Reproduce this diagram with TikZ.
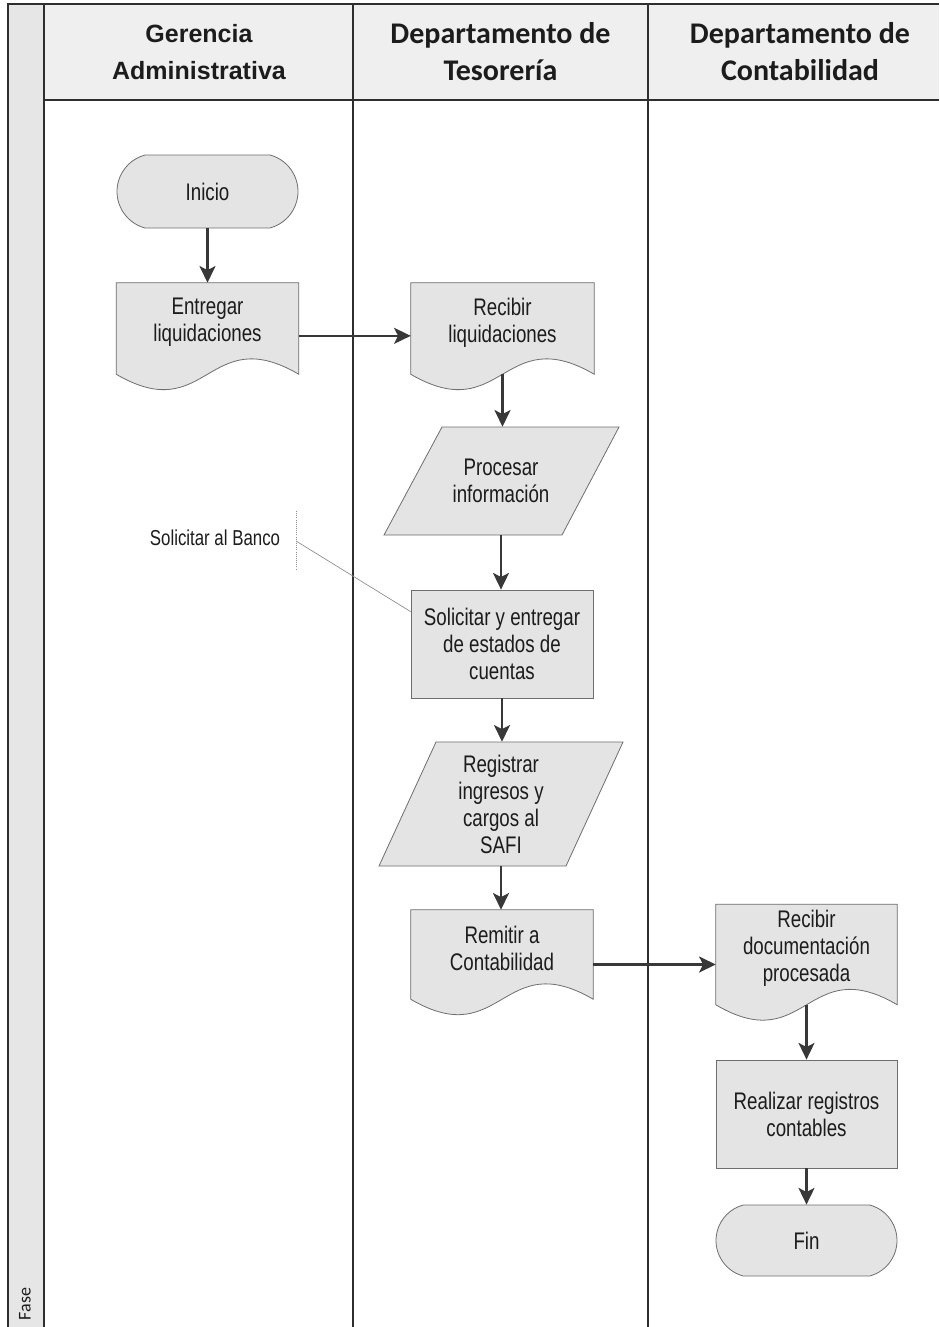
\documentclass[tikz,border=0pt]{standalone}
\usepackage{fontspec}
\setmainfont{Liberation Sans}
\newfontfamily\narrowsans[FakeStretch=0.78]{Liberation Sans}
\newfontfamily\headsans{Carlito}
\usetikzlibrary{arrows.meta,shapes.misc}
\pgfdeclarelayer{back}
\pgfsetlayers{back,main}

\definecolor{lanegray}{HTML}{2E2E2E}
\definecolor{headfill}{HTML}{EFEFEF}
\definecolor{phasefill}{HTML}{E6E6E6}
\definecolor{boxfill}{HTML}{E4E4E4}
\definecolor{edgegray}{HTML}{6E6E6E}
\definecolor{arrowgray}{HTML}{383838}
\definecolor{inkcolor}{HTML}{1C1C1C}
\definecolor{notegray}{HTML}{8C8C8C}

\newcommand\flowfont{\narrowsans\fontsize{18}{20.25}\selectfont}
\newcommand\notefont{\narrowsans\fontsize{16.2}{19}\selectfont}
\newcommand\laneheadA{\bfseries\fontsize{18.75}{27.75}\selectfont}
\newcommand\laneheadB{\headsans\bfseries\fontsize{22.5}{27.75}\selectfont}
\newcommand\phasefont{\headsans\fontsize{13.5}{16}\selectfont}

% document symbol: straight top and sides, wavy bottom 9pt below the text box
\newcommand\docframe[1]{%
  \draw[shapeframe] ([yshift=-9pt]#1.south west) -- (#1.north west) -- (#1.north east)
    -- ([yshift=-9pt]#1.south east)
    .. controls ([yshift=31pt]#1.south) and ([yshift=-49pt]#1.south)
    .. ([yshift=-9pt]#1.south west) -- cycle;}

\begin{document}
\begin{tikzpicture}[x=0.75pt,y=-0.75pt,
  lane/.style={draw=lanegray, line width=1.1pt},
  boxtext/.style={font=\flowfont, text=inkcolor, align=center, inner sep=0pt},
  procbox/.style={boxtext, rectangle, draw=edgegray, line width=0.6pt, fill=boxfill,
    minimum width=136.5pt, minimum height=81pt},
  termbox/.style={boxtext, rounded rectangle, rounded rectangle arc length=150,
    draw=edgegray, line width=0.6pt, fill=boxfill, minimum width=135.75pt},
  docbox/.style={boxtext, rectangle, minimum width=136.5pt},
  iobox/.style={boxtext, rectangle, minimum width=90pt},
  shapeframe/.style={draw=edgegray, line width=0.6pt, fill=boxfill},
  flow/.style={draw=arrowgray, line width=1.6pt,
    -{Stealth[length=12.5pt,width=12pt,inset=3pt]}},
  note/.style={draw=notegray, line width=0.5pt},
  bracket/.style={draw=notegray, line width=0.6pt, densely dotted},
  lanehead/.style={align=center, text=inkcolor, inner sep=0pt}]

\useasboundingbox (0,0) rectangle (939,1327);

% swimlane frame
\begin{pgfonlayer}{back}
  \fill[white] (0,0) rectangle (939,1327);
  \fill[phasefill] (8,4) rectangle (44,1327);
  \fill[headfill] (44,4) rectangle (939,100);
  \draw[lane] (8,1327) -- (8,4) -- (939,4);
  \draw[lane] (44,4) -- (44,1327);
  \draw[lane] (44,100) -- (939,100);
  \draw[lane] (353,4) -- (353,1327);
  \draw[lane] (648,4) -- (648,1327);
\end{pgfonlayer}

% lane headings
\node[lanehead, font=\laneheadA] (hgerencia) at (199,52) {Gerencia\\Administrativa};
\node[lanehead, font=\laneheadB] (htesoreria) at (500.5,52) {Departamento de\\Tesorería};
\node[lanehead, font=\laneheadB] (hcontab) at (800,52) {Departamento de\\Contabilidad};
\node[rotate=90, font=\phasefont, text=inkcolor, inner sep=0pt] (fase) at (25,1304) {Fase};

% flow steps
\node[termbox, minimum height=54.75pt] (inicio) at (207.5,191.5) {Inicio};
\node[docbox, minimum height=59.25pt] (entregar) at (207.5,322.5) {Entregar\\liquidaciones};
\node[docbox, minimum width=137.25pt, minimum height=59.25pt] (recibir) at (502.5,322.5) {Recibir\\liquidaciones};
\node[iobox, minimum height=81pt] (procesar) at (501,481) {Procesar\\información};
\node[procbox] (solicitar) at (502,644) {Solicitar y entregar\\de estados de\\cuentas};
\node[iobox, minimum height=93pt] (registrar) at (501,804) {Registrar\\ingresos y\\cargos al\\SAFI};
\node[docbox, minimum height=57.75pt] (remitir) at (502,948.5) {Remitir a\\Contabilidad};
\node[docbox, minimum width=135.75pt, minimum height=66pt] (recibdoc) at (806.5,948.5) {Recibir\\documentación\\procesada};
\node[procbox, minimum width=135.75pt] (realizar) at (806.5,1114) {Realizar registros\\contables};
\node[termbox, minimum height=53.25pt] (fin) at (806.5,1240.5) {Fin};

% annotation
\node[font=\notefont, text=inkcolor, inner sep=0pt] (banco) at (215,538) {Solicitar al Banco};
\coordinate (brtop) at (296,511);
\coordinate (brbot) at (296,570);
\coordinate (brmid) at (296,541);

% outlines of documents and data symbols, behind their text
\begin{pgfonlayer}{back}
  \docframe{entregar}
  \docframe{recibir}
  \docframe{remitir}
  \docframe{recibdoc}
  \draw[shapeframe, shift={(procesar.center)}] (-59,-54) -- (118,-54) -- (61,54) -- (-117,54) -- cycle;
  \draw[shapeframe, shift={(registrar.center)}] (-65,-62) -- (122,-62) -- (65,62) -- (-122,62) -- cycle;
\end{pgfonlayer}

% connectors
\draw[flow] (inicio.south) -- (entregar.north);
\draw[flow] ([yshift=-10pt]entregar.east) -- ([yshift=-10pt]recibir.west);
\draw[flow] ([yshift=-9pt]recibir.south) -- (recibir.south |- procesar.north);
\draw[flow] (procesar.south) -- (procesar.south |- solicitar.north);
\draw[flow] (solicitar.south) -- (solicitar.south |- registrar.north);
\draw[flow] (registrar.south) -- (registrar.south |- remitir.north);
\draw[flow] ([yshift=-12pt]remitir.east) -- ([yshift=-12pt]recibdoc.west);
\draw[flow] ([yshift=-9pt]recibdoc.south) -- (realizar.north);
\draw[flow] (realizar.south) -- (fin.north);

\draw[bracket] (brtop) -- (brbot);
\draw[note] (brmid) -- ([yshift=-16.5pt]solicitar.north west);

\end{tikzpicture}
\end{document}
